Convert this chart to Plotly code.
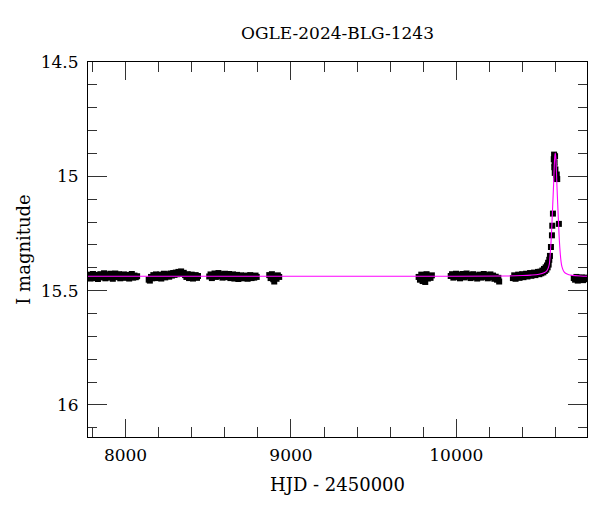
import plotly.graph_objects as go

# ---------------- data ----------------
s1_t = [7774, 7781, 7788, 7795, 7803, 7810, 7818, 7825, 7833, 7840, 7848, 7855, 7863, 7870,
        7878, 7885, 7893, 7900, 7908, 7915, 7923, 7930, 7938, 7945, 7953, 7960, 7968, 7975,
        7983, 7990, 7998, 8006, 8014, 8022, 8030, 8038, 8046, 8054, 8062, 8070]
s1_m = [15.440, 15.430, 15.447, 15.434, 15.427, 15.445, 15.438, 15.431, 15.449, 15.436,
        15.428, 15.442, 15.434, 15.424, 15.446, 15.437, 15.430, 15.443, 15.426, 15.438,
        15.448, 15.432, 15.425, 15.441, 15.435, 15.428, 15.446, 15.433, 15.440, 15.429,
        15.444, 15.436, 15.431, 15.447, 15.439, 15.427, 15.443, 15.434, 15.441, 15.437]

s2_t = [8140, 8147, 8154, 8161, 8168, 8176, 8184, 8192, 8200, 8208, 8216, 8224, 8232, 8240,
        8248, 8256, 8264, 8272, 8280, 8288, 8296, 8304, 8312, 8320, 8328, 8336, 8344, 8352,
        8360, 8368, 8376, 8384, 8392, 8400, 8408, 8416, 8424, 8432, 8438]
s2_m = [15.452, 15.456, 15.440, 15.446, 15.432, 15.441, 15.429, 15.445, 15.437, 15.430,
        15.447, 15.433, 15.426, 15.442, 15.436, 15.428, 15.439, 15.425, 15.434, 15.423,
        15.431, 15.421, 15.428, 15.418, 15.425, 15.416, 15.427, 15.422, 15.432, 15.440,
        15.428, 15.445, 15.435, 15.430, 15.447, 15.438, 15.432, 15.444, 15.436]

s3_t = [8506, 8514, 8522, 8530, 8538, 8546, 8554, 8562, 8570, 8578, 8586, 8594, 8602, 8610,
        8618, 8626, 8634, 8642, 8650, 8658, 8666, 8674, 8682, 8690, 8698, 8706, 8714, 8722,
        8730, 8738, 8746, 8754, 8762, 8770, 8778, 8786, 8793]
s3_m = [15.438, 15.429, 15.445, 15.433, 15.425, 15.440, 15.430, 15.423, 15.437, 15.428,
        15.443, 15.432, 15.426, 15.441, 15.434, 15.427, 15.445, 15.436, 15.429, 15.447,
        15.438, 15.431, 15.449, 15.440, 15.433, 15.446, 15.437, 15.442, 15.434, 15.448,
        15.439, 15.432, 15.445, 15.436, 15.443, 15.434, 15.440]

s4_t = [8869, 8877, 8885, 8893, 8899, 8905, 8913, 8921, 8929]
s4_m = [15.432, 15.445, 15.428, 15.450, 15.460, 15.438, 15.448, 15.433, 15.440]

s5_t = [9772, 9780, 9788, 9796, 9804, 9812, 9820, 9828, 9836, 9844, 9852]
s5_m = [15.440, 15.452, 15.430, 15.458, 15.436, 15.462, 15.428, 15.447, 15.438, 15.444, 15.433]

s6_t = [9966, 9974, 9982, 9990, 9998, 10006, 10014, 10022, 10030, 10038, 10046, 10054, 10062,
        10070, 10078, 10086, 10094, 10102, 10110, 10118, 10126, 10134, 10142, 10150, 10158,
        10166, 10174, 10182, 10190, 10198, 10206, 10214, 10222, 10230, 10238, 10246, 10254, 10259]
s6_m = [15.436, 15.428, 15.443, 15.432, 15.426, 15.440, 15.430, 15.446, 15.435, 15.427,
        15.442, 15.433, 15.425, 15.439, 15.431, 15.445, 15.436, 15.428, 15.441, 15.433,
        15.447, 15.438, 15.430, 15.443, 15.435, 15.427, 15.440, 15.432, 15.446, 15.437,
        15.429, 15.442, 15.434, 15.448, 15.439, 15.452, 15.444, 15.460]

s7_t = [10342, 10350, 10358, 10366, 10374, 10382, 10390, 10398, 10406, 10414, 10422, 10430,
        10438, 10446, 10454, 10462, 10470, 10478, 10486, 10494, 10502, 10508, 10514, 10520,
        10526, 10530, 10535, 10540, 10544, 10548, 10552, 10555, 10558, 10562, 10566,
        10572, 10578, 10580, 10584,
        10589, 10591, 10592, 10594, 10595, 10597, 10599, 10603, 10605, 10607, 10610, 10620]
s7_m = [15.445, 15.433, 15.448, 15.438, 15.430, 15.444, 15.434, 15.428, 15.441, 15.431,
        15.426, 15.438, 15.429, 15.423, 15.435, 15.426, 15.421, 15.432, 15.423, 15.418,
        15.428, 15.417, 15.424, 15.412, 15.420, 15.405, 15.414, 15.398, 15.408, 15.390,
        15.398, 15.378, 15.386, 15.365, 15.348,
        15.309, 15.258, 15.216, 15.163,
        14.925, 14.905, 14.960, 14.940, 14.985, 14.912, 14.970, 14.995, 15.010, 14.992,
        15.012, 15.208]

s8_t = [10710, 10718, 10726, 10734, 10742, 10750, 10758, 10766, 10774, 10782, 10788]
s8_m = [15.445, 15.452, 15.440, 15.456, 15.444, 15.450, 15.442, 15.454, 15.446, 15.450, 15.443]

model_t = [7773, 9000, 10000, 10300, 10400, 10450, 10500, 10530, 10548, 10558, 10563,
           10568, 10573, 10578, 10583, 10588, 10592, 10595, 10598, 10601, 10604, 10608,
           10613, 10618, 10623, 10628, 10633, 10638, 10648, 10658, 10680, 10700, 10750, 10790]
model_m = [15.437, 15.437, 15.437, 15.436, 15.434, 15.432, 15.428, 15.422, 15.412, 15.396,
           15.380, 15.335, 15.282, 15.206, 15.122, 15.036, 14.955, 14.915, 14.898, 14.915,
           14.955, 15.036, 15.122, 15.206, 15.282, 15.335, 15.372, 15.394, 15.414, 15.423,
           15.430, 15.433, 15.436, 15.437]

x_tickvals = [8000, 9000, 10000]
x_ticktext = ["8000", "9000", "10000"]
y_tickvals = [14.5, 15, 15.5, 16]
y_ticktext = ["14.5", "15", "15.5", "16"]

t_all = s1_t + s2_t + s3_t + s4_t + s5_t + s6_t + s7_t + s8_t
m_all = s1_m + s2_m + s3_m + s4_m + s5_m + s6_m + s7_m + s8_m

title_text = "OGLE-2024-BLG-1243"
x_label = "HJD - 2450000"
y_label = "I magnitude"

FONT = "DejaVu Serif"

fig = go.Figure()
fig.add_trace(go.Scatter(x=t_all, y=m_all, mode="markers",
                         marker=dict(symbol="square", size=6, color="black"),
                         showlegend=False, hoverinfo="skip"))
fig.add_trace(go.Scatter(x=model_t, y=model_m, mode="lines", line_shape="spline",
                         line=dict(color="#ff00ff", width=1.1),
                         showlegend=False, hoverinfo="skip"))

axis_common = dict(showgrid=False, zeroline=False, showline=True, linecolor="black",
                   linewidth=1, ticks="inside", mirror="allticks", tickcolor="#333",
                   tickwidth=1, automargin=False,
                   tickfont=dict(family=FONT, size=17, color="black"))

fig.update_xaxes(range=[7773, 10790], tickvals=x_tickvals, ticktext=x_ticktext, ticklen=18,
                 minor=dict(dtick=200, tick0=0, ticklen=10, ticks="inside", tickcolor="#333"),
                 title=dict(text=x_label, font=dict(family=FONT, size=18, color="black"), standoff=13),
                 ticklabelstandoff=3, **axis_common)
fig.update_yaxes(range=[16.14, 14.5], tickvals=y_tickvals, ticktext=y_ticktext, ticklen=19,
                 minor=dict(dtick=0.1, tick0=0, ticklen=9, ticks="inside", tickcolor="#333"),
                 title=dict(text=y_label, font=dict(family=FONT, size=18, color="black"), standoff=5),
                 ticklabelstandoff=5, **axis_common)

# the page body adds an 8 px offset, so the figure is 8 px smaller and margins shifted
fig.update_layout(
    width=592, height=504,
    margin=dict(l=80, r=13, t=54, b=75, autoexpand=False),
    paper_bgcolor="white", plot_bgcolor="white",
    title=dict(text=title_text, x=0.5, xref="paper", y=1 - 25 / 504, yref="container",
               yanchor="middle", font=dict(family=FONT, size=17, color="black")),
)

fig.write_html("out.html")
